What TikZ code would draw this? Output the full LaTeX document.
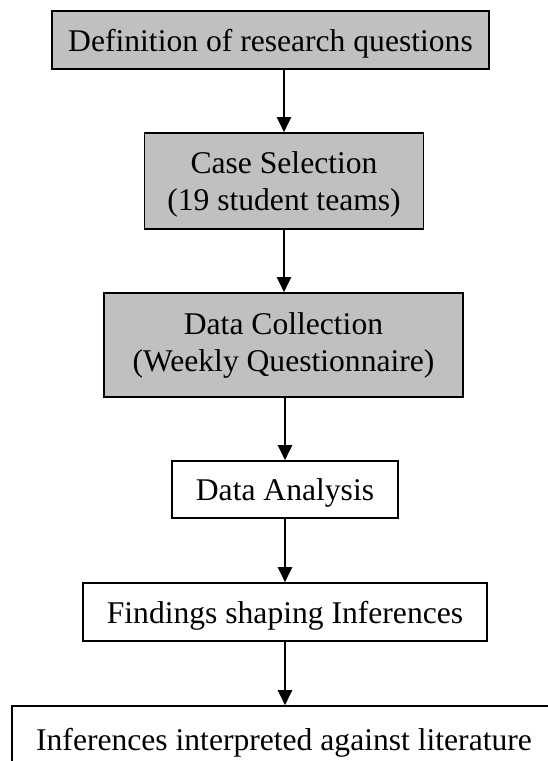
\documentclass[tikz,border=0pt]{standalone}
\usepackage{fontspec}
\setmainfont{Liberation Serif}
\usetikzlibrary{arrows.meta}
\definecolor{boxgray}{HTML}{C0C0C0}
\newcommand{\mydrop}[1]{\rule{0pt}{#1}}
\begin{document}
\begin{tikzpicture}[x=1pt,y=-1pt,
  stagebox/.style={draw=black, line width=1.6pt, inner sep=0pt, align=center,
    font=\fontsize{31.6}{37}\selectfont},
  graybox/.style={stagebox, fill=boxgray},
  whitebox/.style={stagebox, fill=white},
  arr/.style={line width=2pt, -{Triangle[length=15pt,width=14pt]}}]
\useasboundingbox (0,0) rectangle (548,761);
\clip (0,0) rectangle (548,761);
\node[graybox, minimum width=437pt, minimum height=58pt] (b1) at (270.5,40) {\mydrop{30pt}Definition of research questions};
\node[graybox, minimum width=279pt, minimum height=96pt] (b2) at (284,181) {\mydrop{28pt}Case Selection\\(19 student teams)};
\node[graybox, minimum width=359pt, minimum height=104pt] (b3) at (283.5,345) {Data Collection\\(Weekly Questionnaire)};
\node[whitebox, minimum width=226pt, minimum height=57pt] (b4) at (285,489.5) {\mydrop{29pt}Data Analysis};
\node[whitebox, minimum width=404pt, minimum height=58pt] (b5) at (285,612) {\mydrop{29pt}Findings shaping Inferences};
\node[whitebox, minimum width=544pt, minimum height=74pt] (b6) at (284,743) {Inferences interpreted against literature};
\draw[arr] (b2.north |- b1.south) -- (b2.north);
\draw[arr] (b2.south) -- (b2.south |- b3.north);
\draw[arr] (b4.north |- b3.south) -- (b4.north);
\draw[arr] (b4.south) -- (b4.south |- b5.north);
\draw[arr] (b5.south) -- (b5.south |- b6.north);
\end{tikzpicture}
\end{document}
